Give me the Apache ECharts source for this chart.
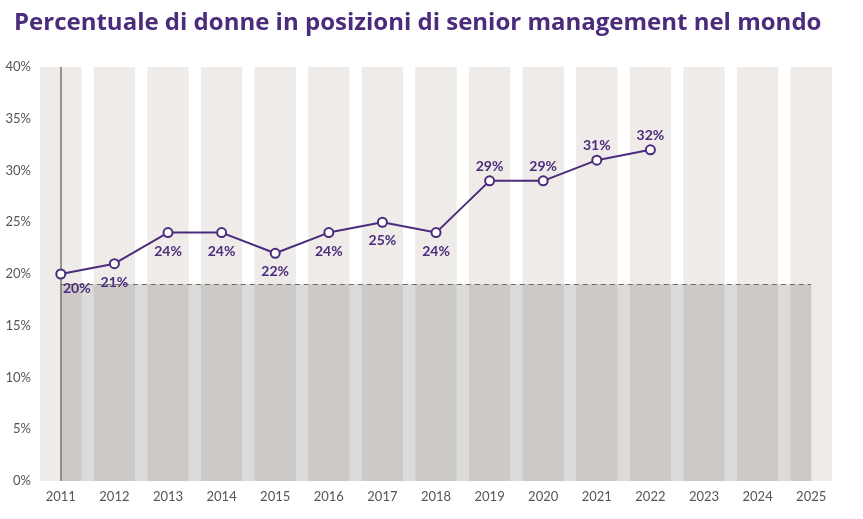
<!DOCTYPE html>
<html><head><meta charset="utf-8">
<script src="https://cdn.jsdelivr.net/npm/echarts@6/dist/echarts.min.js"></script>
<style>html,body{margin:0;padding:0;background:#fff}#c{width:863px;height:519px}</style>
</head><body><div id="c"></div>
<script>
const categories = ['2011','2012','2013','2014','2015','2016','2017','2018','2019','2020','2021','2022','2023','2024','2025'];
const shareValues = [20,21,24,24,22,24,25,24,29,29,31,32];
const yTicks = [0,5,10,15,20,25,30,35,40];
const baselineLevel = 19;
const bandTop = 40;

const purple = '#4b2c7c';
const lineData = shareValues.map((v, i) => {
  let label;
  if (i === 0) label = {position: 'bottom', offset: [16, -4]};
  else if (i >= 8) label = {position: 'top', distance: 2};
  else label = {position: 'bottom'};
  return {value: v, label};
});

const chart = echarts.init(document.getElementById('c'));
chart.setOption({
  animation: false,
  title: {
    text: 'Percentuale di donne in posizioni di senior management nel mondo',
    left: 9, top: 6,
    textStyle: {color: purple, fontSize: 24, fontWeight: 'bold', fontFamily: 'Open Sans'}
  },
  grid: {left: 34, right: 25, top: 67, bottom: 38},
  xAxis: {
    type: 'category', data: categories, boundaryGap: true,
    axisLine: {show: false}, axisTick: {show: false},
    axisLabel: {color: '#555', fontSize: 13, fontFamily: 'Lato', margin: 9}
  },
  yAxis: {
    type: 'value', min: yTicks[0], max: yTicks[yTicks.length - 1], interval: 5,
    splitLine: {show: false}, axisLine: {show: false}, axisTick: {show: false},
    axisLabel: {color: '#555', fontSize: 13, fontFamily: 'Lato', margin: 3, formatter: '{value}%'}
  },
  series: [
    {
      type: 'bar', data: categories.map(() => bandTop), barWidth: '77%',
      itemStyle: {color: '#eeebe8'}, z: 0, silent: true
    },
    {
      type: 'line', data: [], z: 3, silent: true,
      markArea: {
        silent: true, z: 3,
        itemStyle: {color: 'rgba(0,0,0,0.14)'},
        data: [[{coord: [categories[0], 0]}, {coord: [categories[categories.length - 1], baselineLevel]}]]
      },
      markLine: {
        silent: true, symbol: 'none', label: {show: false}, z: 4,
        data: [
          [{coord: [categories[0], baselineLevel], lineStyle: {type: [5, 4], color: '#6e6a66', width: 1}},
           {coord: [categories[categories.length - 1], baselineLevel]}],
          [{coord: [categories[0], 0], lineStyle: {type: 'solid', color: '#7a7672', width: 1.5}},
           {coord: [categories[0], bandTop]}]
        ]
      }
    },
    {
      type: 'line', data: lineData, z: 5,
      symbol: 'circle', symbolSize: 9,
      lineStyle: {color: purple, width: 2},
      itemStyle: {color: '#fff', borderColor: purple, borderWidth: 2},
      label: {show: true, formatter: '{c}%', color: purple, fontSize: 14, fontWeight: 'bold', fontFamily: 'Lato', distance: 6}
    }
  ]
});
</script></body></html>
